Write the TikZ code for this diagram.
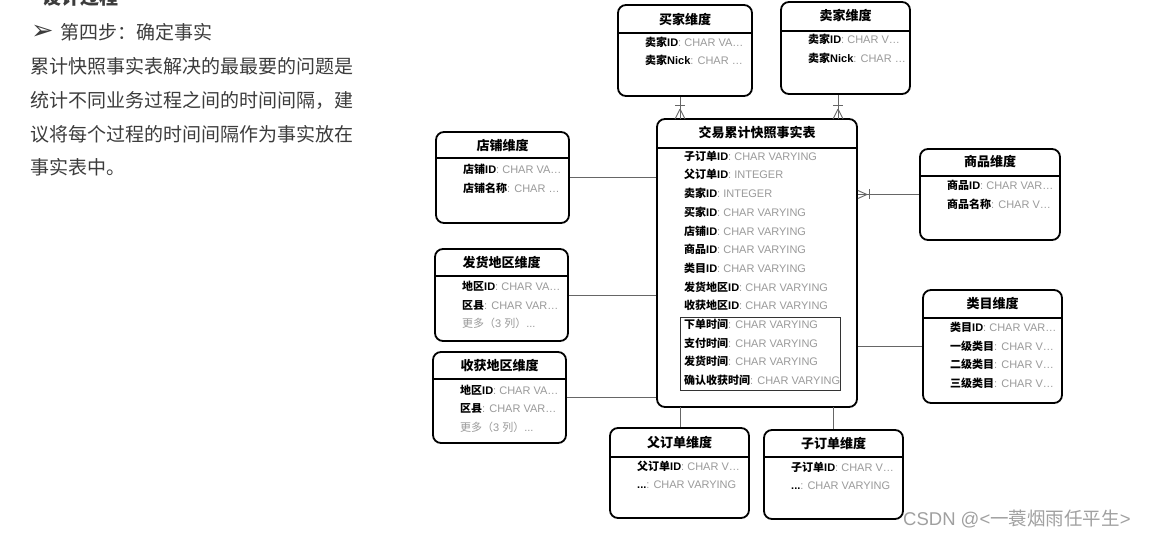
\documentclass[tikz,border=0pt]{standalone}
\usetikzlibrary{calc}
\usepackage{fontspec}
\setmainfont{Liberation Sans}
\newfontfamily\cjkfont{Noto Sans CJK SC}
\newfontfamily\latinfont{Liberation Sans}
\newfontfamily\symfont{DejaVu Sans}
\XeTeXinterchartokenstate=1
\newXeTeXintercharclass\CJKcls
\newcount\cjkc
\def\setcjkrange#1#2{\cjkc=#1\relax\loop\XeTeXcharclass\cjkc=\CJKcls\relax\ifnum\cjkc<#2\relax\advance\cjkc by 1\repeat}
\setcjkrange{"3000}{"303F}
\setcjkrange{"4E00}{"9FFF}
\setcjkrange{"FF00}{"FFEF}
\XeTeXinterchartoks 0 \CJKcls = {\cjkfont}
\XeTeXinterchartoks 4095 \CJKcls = {\cjkfont}
\XeTeXinterchartoks \CJKcls 0 = {\latinfont}
\XeTeXinterchartoks \CJKcls 4095 = {\latinfont}
\definecolor{typegray}{HTML}{9A9A9A}
\definecolor{textgray}{HTML}{3C3C3C}
\definecolor{conngray}{HTML}{666666}
\definecolor{markgray}{HTML}{A0A0A0}
\newcommand\fieldline[2]{\textbf{#1}\textcolor{typegray}{: #2}}
\begin{document}
\begin{tikzpicture}[x=1pt,y=-1pt,
  ent/.style={draw=black, line width=1.8pt, rounded corners=8pt, fill=white, inner sep=0pt},
  hdr/.style={draw=black, line width=1.6pt},
  ttl/.style={font=\fontsize{13}{15}\selectfont\bfseries, inner sep=0pt},
  fieldtext/.style={anchor=west, font=\fontsize{11}{13}\selectfont, inner sep=0pt},
  conn/.style={draw=conngray, line width=0.9pt},
  para/.style={anchor=west, inner sep=0pt, text=textgray, font=\fontsize{19}{21}\selectfont},
  timebox/.style={draw=black!80, line width=1pt, inner sep=0pt}]
\useasboundingbox (0,0) rectangle (1151,537);

% ---------- left text ----------
\node[para, font=\fontsize{19}{21}\selectfont\bfseries] (t0) at (42,-3) {设计过程};
\node[para] (arrow) at (31,32) {\symfont\fontsize{27}{29}\selectfont ➢};
\node[para] (t1) at (60,32) {第四步：确定事实};
\node[para] (t2) at (30,66) {累计快照事实表解决的最最要的问题是};
\node[para] (t3) at (30,100) {统计不同业务过程之间的时间间隔，建};
\node[para] (t4) at (30,134) {议将每个过程的时间间隔作为事实放在};
\node[para] (t5) at (30,167) {事实表中。};

% ---------- connector end points on the fact table ----------
\coordinate (cb) at (680,119);
\coordinate (cs) at (838,119);
\coordinate (cp) at (680,407);
\coordinate (cc) at (833,407);

% ---------- entities ----------
% buyer
\node[ent, minimum width=134pt, minimum height=91pt] (buyer) at (685,50.5) {};
\draw[hdr] (buyer.west |- 0,33) -- (buyer.east |- 0,33);
\node[ttl] (buyerT) at (685,19) {买家维度};
\node[fieldtext] (buyerF1) at (645,42) {\fieldline{卖家ID}{CHAR VA…}};
\node[fieldtext] (buyerF2) at (645,60) {\fieldline{卖家Nick}{CHAR …}};

% seller
\node[ent, minimum width=129pt, minimum height=92pt] (seller) at (845.5,48) {};
\draw[hdr] (seller.west |- 0,31) -- (seller.east |- 0,31);
\node[ttl] (sellerT) at (845.5,16) {卖家维度};
\node[fieldtext] (sellerF1) at (808,39) {\fieldline{卖家ID}{CHAR V…}};
\node[fieldtext] (sellerF2) at (808,58) {\fieldline{卖家Nick}{CHAR …}};

% shop
\node[ent, minimum width=133pt, minimum height=91pt] (shop) at (502.5,177.5) {};
\draw[hdr] (shop.west |- 0,158) -- (shop.east |- 0,158);
\node[ttl] (shopT) at (502.5,146) {店铺维度};
\node[fieldtext] (shopF1) at (463,169) {\fieldline{店铺ID}{CHAR VA…}};
\node[fieldtext] (shopF2) at (463,188) {\fieldline{店铺名称}{CHAR …}};

% fact table
\node[ent, minimum width=200pt, minimum height=288pt] (fact) at (757,263) {};
\draw[hdr] (fact.west |- 0,148) -- (fact.east |- 0,148);
\node[ttl] (factT) at (757,133) {交易累计快照事实表};
\node[fieldtext] (fF1) at (684,156) {\fieldline{子订单ID}{CHAR VARYING}};
\node[fieldtext] (fF2) at (684,174.7) {\fieldline{父订单ID}{INTEGER}};
\node[fieldtext] (fF3) at (684,193.4) {\fieldline{卖家ID}{INTEGER}};
\node[fieldtext] (fF4) at (684,212.1) {\fieldline{买家ID}{CHAR VARYING}};
\node[fieldtext] (fF5) at (684,230.8) {\fieldline{店铺ID}{CHAR VARYING}};
\node[fieldtext] (fF6) at (684,249.5) {\fieldline{商品ID}{CHAR VARYING}};
\node[fieldtext] (fF7) at (684,268.2) {\fieldline{类目ID}{CHAR VARYING}};
\node[fieldtext] (fF8) at (684,286.9) {\fieldline{发货地区ID}{CHAR VARYING}};
\node[fieldtext] (fF9) at (684,305.6) {\fieldline{收获地区ID}{CHAR VARYING}};
\node[timebox, minimum width=160pt, minimum height=73pt] (tbox) at (760,353.5) {};
\node[fieldtext] (fT1) at (684,324.3) {\fieldline{下单时间}{CHAR VARYING}};
\node[fieldtext] (fT2) at (684,343) {\fieldline{支付时间}{CHAR VARYING}};
\node[fieldtext] (fT3) at (684,361.7) {\fieldline{发货时间}{CHAR VARYING}};
\node[fieldtext] (fT4) at (684,380.4) {\fieldline{确认收获时间}{CHAR VARYING}};

% goods
\node[ent, minimum width=140pt, minimum height=91pt] (goods) at (990,194.5) {};
\draw[hdr] (goods.west |- 0,176) -- (goods.east |- 0,176);
\node[ttl] (goodsT) at (990,162) {商品维度};
\node[fieldtext] (goodsF1) at (947,185) {\fieldline{商品ID}{CHAR VAR…}};
\node[fieldtext] (goodsF2) at (947,204) {\fieldline{商品名称}{CHAR V…}};

% ship area
\node[ent, minimum width=133pt, minimum height=92pt] (ship) at (501.5,295) {};
\draw[hdr] (ship.west |- 0,276) -- (ship.east |- 0,276);
\node[ttl] (shipT) at (501.5,263) {发货地区维度};
\node[fieldtext] (shipF1) at (462,286) {\fieldline{地区ID}{CHAR VA…}};
\node[fieldtext] (shipF2) at (462,305) {\fieldline{区县}{CHAR VAR…}};
\node[fieldtext, text=typegray] (shipF3) at (462,323.5) {更多（3 列）...};

% receive area
\node[ent, minimum width=133pt, minimum height=91pt] (recv) at (499.5,397.5) {};
\draw[hdr] (recv.west |- 0,379) -- (recv.east |- 0,379);
\node[ttl] (recvT) at (499.5,366) {收获地区维度};
\node[fieldtext] (recvF1) at (460,390) {\fieldline{地区ID}{CHAR VA…}};
\node[fieldtext] (recvF2) at (460,408.5) {\fieldline{区县}{CHAR VAR…}};
\node[fieldtext, text=typegray] (recvF3) at (460,427) {更多（3 列）...};

% category
\node[ent, minimum width=139pt, minimum height=113pt] (cat) at (992.5,346.5) {};
\draw[hdr] (cat.west |- 0,318) -- (cat.east |- 0,318);
\node[ttl] (catT) at (992.5,304) {类目维度};
\node[fieldtext] (catF1) at (950,327.5) {\fieldline{类目ID}{CHAR VAR…}};
\node[fieldtext] (catF2) at (950,346) {\fieldline{一级类目}{CHAR V…}};
\node[fieldtext] (catF3) at (950,364.5) {\fieldline{二级类目}{CHAR V…}};
\node[fieldtext] (catF4) at (950,383) {\fieldline{三级类目}{CHAR V…}};

% parent order
\node[ent, minimum width=139pt, minimum height=90pt] (parent) at (679.5,473) {};
\draw[hdr] (parent.west |- 0,457) -- (parent.east |- 0,457);
\node[ttl] (parentT) at (679.5,443) {父订单维度};
\node[fieldtext] (parentF1) at (637,466) {\fieldline{父订单ID}{CHAR V…}};
\node[fieldtext] (parentF2) at (637,485) {\fieldline{...}{CHAR VARYING}};

% child order
\node[ent, minimum width=139pt, minimum height=89pt] (child) at (833.5,474.5) {};
\draw[hdr] (child.west |- 0,457) -- (child.east |- 0,457);
\node[ttl] (childT) at (833.5,444) {子订单维度};
\node[fieldtext] (childF1) at (791,467) {\fieldline{子订单ID}{CHAR V…}};
\node[fieldtext] (childF2) at (791,486) {\fieldline{...}{CHAR VARYING}};

% ---------- connectors ----------
\draw[conn] (buyer.south -| cb) -- (cb);
\draw[conn] ($(cb)+(-5,-14)$) -- ($(cb)+(5,-14)$);
\draw[conn] ($(cb)+(0,-10)$) -- ($(cb)+(-5,0)$);
\draw[conn] ($(cb)+(0,-10)$) -- ($(cb)+(5,0)$);

\draw[conn] (seller.south -| cs) -- (cs);
\draw[conn] ($(cs)+(-5,-14)$) -- ($(cs)+(5,-14)$);
\draw[conn] ($(cs)+(0,-10)$) -- ($(cs)+(-5,0)$);
\draw[conn] ($(cs)+(0,-10)$) -- ($(cs)+(5,0)$);

\coordinate (cg) at (goods.west -| fact.east);
\draw[conn] (goods.west) -- (cg);
\draw[conn] ($(cg)+(12,-5)$) -- ($(cg)+(12,5)$);
\draw[conn] ($(cg)+(9,0)$) -- ($(cg)+(0,-4)$);
\draw[conn] ($(cg)+(9,0)$) -- ($(cg)+(0,4)$);

\draw[conn] (shop.east) -- (shop.east -| fact.west);
\draw[conn] (ship.east) -- (ship.east -| fact.west);
\draw[conn] (recv.east) -- (recv.east -| fact.west);
\draw[conn] (cat.west) -- (cat.west -| fact.east);
\draw[conn] (cp) -- (parent.north -| cp);
\draw[conn] (cc) -- (child.north -| cc);

% ---------- watermark ----------
\node[anchor=west, inner sep=0pt, text=markgray, font=\fontsize{18.5}{20}\selectfont] (mark) at (903,519) {CSDN @<一蓑烟雨任平生>};
\end{tikzpicture}
\end{document}
